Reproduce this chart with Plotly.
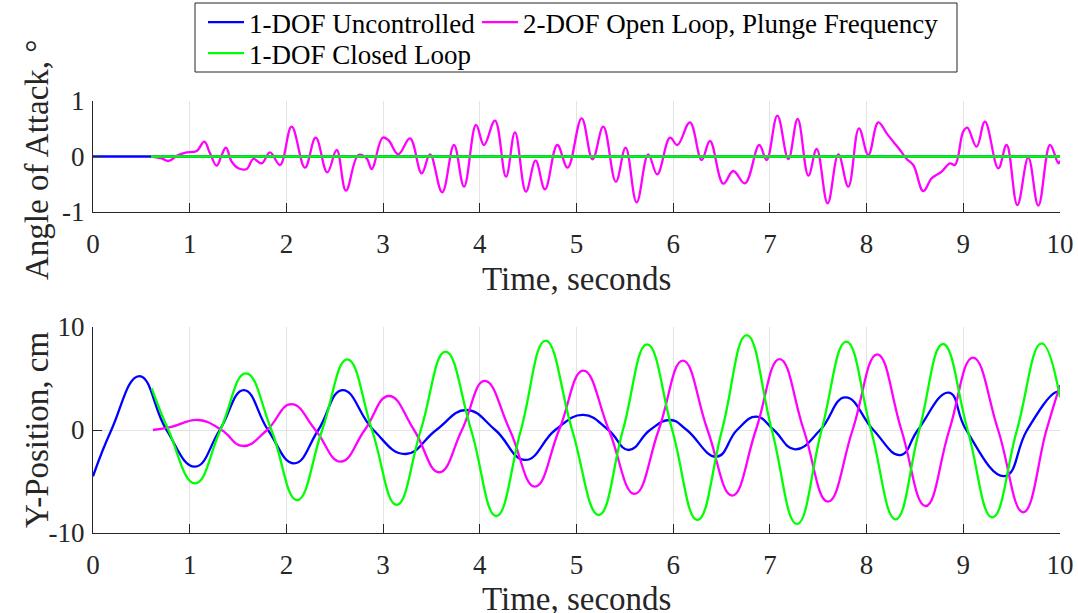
import plotly.graph_objects as go

# ---------------- data ----------------
# Top panel: angle of attack (deg)
aoa_unc_t = [0.0, 10.0]
aoa_unc_v = [0.0, 0.0]
aoa_cl_t = [0.6, 10.0]
aoa_cl_v = [0.0, 0.0]
aoa_ol_t = [0.607, 0.71, 0.779, 0.882, 0.969, 1.072, 1.151, 1.21, 1.279, 1.331, 1.375, 1.434,
            1.503, 1.589, 1.658, 1.744, 1.83, 1.934, 2.054, 2.192, 2.303, 2.423, 2.52, 2.616,
            2.744, 2.83, 2.882, 2.995, 3.054, 3.158, 3.278, 3.399, 3.485, 3.611,
            3.733, 3.837, 3.961, 4.043, 4.157, 4.271, 4.364, 4.477, 4.577, 4.674, 4.801, 4.908,
            5.053, 5.166, 5.277, 5.407, 5.508, 5.622, 5.742, 5.835, 5.967, 6.043, 6.173, 6.294,
            6.38, 6.518, 6.621, 6.742, 6.89, 6.966,
            7.077, 7.191, 7.287, 7.398, 7.484, 7.597, 7.708, 7.811, 7.921, 8.018, 8.121, 8.208,
            8.276, 8.345, 8.414, 8.483, 8.586, 8.673, 8.776, 8.862, 8.914, 8.999, 9.041, 9.137,
            9.224, 9.362, 9.448, 9.559, 9.672, 9.776, 9.897, 9.983, 10.0]
aoa_ol_v = [0.0, -0.033, -0.081, 0.027, 0.075, 0.099, 0.267, 0.057, -0.165, 0.027, 0.159, -0.093,
            -0.213, -0.225, -0.045, -0.123, 0.075, -0.153, 0.538, -0.201, 0.339, -0.285, 0.117, -0.616,
            0.027, -0.033, -0.225, 0.339, 0.297, 0.039, 0.327, -0.303, 0.039, -0.646,
            0.207, -0.544, 0.568, 0.207, 0.646, -0.363, 0.435, -0.634, -0.075, -0.592, 0.207, -0.201,
            0.688, -0.051, 0.538, -0.454, 0.159, -0.826, 0.039, -0.321, 0.339, 0.207, 0.616, -0.063,
            0.279, -0.49, -0.261, -0.484, 0.207, -0.063,
            0.736, -0.045, 0.676, -0.345, 0.135, -0.844, 0.039, -0.544, 0.508, 0.027, 0.616, 0.417,
            0.267, 0.117, -0.045, -0.153, -0.622, -0.393, -0.273, -0.123, -0.153, 0.447, 0.519, 0.177,
            0.628, -0.213, 0.207, -0.874, -0.021, -0.886, 0.207, -0.123, -0.075]

# Bottom panel: Y-position (cm)
y_unc_t = [0.0, 0.19, 0.48, 0.76, 1.055, 1.31, 1.56, 1.81, 2.08, 2.33, 2.58, 2.9, 3.23, 3.55,
           3.86, 4.16, 4.47, 4.78, 5.07, 5.33, 5.54, 5.76, 5.97, 6.14, 6.45, 6.66, 6.86, 7.04,
           7.26, 7.52, 7.78, 8.07, 8.35, 8.53, 8.85, 9.03, 9.43, 9.66, 9.96, 10.0]
y_unc_v = [-4.5, 0.0, 5.24, 0.0, -3.56, 0.0, 3.88, 0.0, -3.24, 0.0, 3.88, 0.0, -2.33, 0.0,
           1.94, 0.0, -2.91, 0.0, 1.46, 0.0, -1.94, 0.0, 0.97, 0.0, -2.59, 0.0, 1.29, 0.0,
           -1.88, 0.0, 3.17, 0.0, -2.43, 0.0, 3.62, 0.0, -4.47, 0.0, 3.69, 3.6]

y_ol_t = [0.62, 0.81, 1.09, 1.33, 1.55, 1.8, 2.05, 2.3, 2.56, 2.81, 3.06, 3.32, 3.58, 3.815,
          4.05, 4.31, 4.57, 4.82, 5.07, 5.335, 5.6, 5.85, 6.1, 6.355, 6.61, 6.855, 7.1, 7.35,
          7.6, 7.855, 8.11, 8.36, 8.61, 8.855, 9.1, 9.36, 9.62, 9.86, 10.0]
y_ol_v = [0.0, 0.3, 0.97, 0.0, -1.55, 0.0, 2.52, 0.0, -3.07, 0.0, 3.3, 0.0, -4.1, 0.0,
          4.76, 0.0, -5.5, 0.0, 5.76, 0.0, -6.21, 0.0, 6.73, 0.0, -6.37, 0.0, 6.89, 0.0,
          -6.96, 0.0, 7.35, 0.0, -7.38, 0.0, 7.02, 0.0, -7.99, 0.0, 4.37]

y_cl_t = [0.607, 0.78, 1.055, 1.3175, 1.58, 1.845, 2.11, 2.37, 2.63, 2.885, 3.14, 3.39, 3.645,
          3.91, 4.17, 4.425, 4.68, 4.955, 5.23, 5.48, 5.73, 5.99, 6.25, 6.505, 6.76, 7.02,
          7.28, 7.535, 7.79, 8.045, 8.3, 8.545, 8.79, 9.045, 9.3, 9.555, 9.81, 10.0]
y_cl_v = [4.05, 0.0, -5.18, 0.0, 5.5, 0.0, -6.8, 0.0, 6.86, 0.0, -7.28, 0.0, 7.6,
          0.0, -8.35, 0.0, 8.67, 0.0, -8.25, 0.0, 8.32, 0.0, -8.74, 0.0, 9.22, 0.0,
          -9.13, 0.0, 8.58, 0.0, -8.67, 0.0, 8.35, 0.0, -8.48, 0.0, 8.41, 3.17]

x_ticks = list(range(0, 11))
top_ticks = [-1, 0, 1]
top_ticktext = ["-1", "0", "1"]
bot_ticks = [-10, 0, 10]
bot_ticktext = ["-10", "0", "10"]

names = ["1-DOF Uncontrolled", "2-DOF Open Loop, Plunge Frequency", "1-DOF Closed Loop"]
colors = ["#0000ff", "#ff00ff", "#00ff00"]

# ---------------- figure ----------------
FONT = "Liberation Serif, Times New Roman, serif"
TXT = "#262626"
GRID = "#e3e3e3"
W, H = 1078, 613
ML, MR, MT, MB = 93, 18, 101, 80
PH = H - MT - MB

def py(p):  # pixel y -> paper y
    return (H - MB - p) / PH

def px_(x):  # pixel x -> paper x
    return (x - ML) / (W - ML - MR)

fig = go.Figure()
LW = 2.3
SM = 1.3

# top panel
fig.add_trace(go.Scatter(x=aoa_unc_t, y=aoa_unc_v, mode="lines", line=dict(color=colors[0], width=LW),
                         xaxis="x", yaxis="y", showlegend=False))
fig.add_trace(go.Scatter(x=aoa_ol_t, y=aoa_ol_v, mode="lines",
                         line=dict(color=colors[1], width=LW, shape="spline", smoothing=1.1),
                         xaxis="x", yaxis="y", showlegend=False))
fig.add_trace(go.Scatter(x=aoa_cl_t, y=aoa_cl_v, mode="lines", line=dict(color=colors[2], width=LW),
                         xaxis="x", yaxis="y", showlegend=False))
# bottom panel
fig.add_trace(go.Scatter(x=y_unc_t, y=y_unc_v, mode="lines", name=names[0],
                         line=dict(color=colors[0], width=LW, shape="spline", smoothing=SM),
                         xaxis="x2", yaxis="y2", legend="legend", legendwidth=223))
fig.add_trace(go.Scatter(x=y_ol_t, y=y_ol_v, mode="lines", name=names[1],
                         line=dict(color=colors[1], width=LW, shape="spline", smoothing=SM),
                         xaxis="x2", yaxis="y2", legend="legend", legendwidth=445))
fig.add_trace(go.Scatter(x=y_cl_t, y=y_cl_v, mode="lines", name=names[2],
                         line=dict(color=colors[2], width=LW, shape="spline", smoothing=SM),
                         xaxis="x2", yaxis="y2", legend="legend2"))

ax_common = dict(
    showline=True, linecolor=TXT, linewidth=1, mirror=False,
    showgrid=True, gridcolor=GRID, gridwidth=1, zeroline=False,
    ticks="inside", ticklen=9, tickwidth=1, tickcolor=TXT,
    tickfont=dict(family=FONT, size=27, color=TXT),
)

LEGX = 203
fig.update_layout(
    width=W, height=H,
    margin=dict(l=ML, r=MR, t=MT, b=MB, autoexpand=False),
    paper_bgcolor="white", plot_bgcolor="white",
    xaxis=dict(domain=[0, 1], anchor="y", range=[0, 10], tickvals=x_ticks, ticklabelstandoff=8, **ax_common),
    yaxis=dict(domain=[py(212), 1], anchor="x", range=[-1, 1], tickvals=top_ticks, ticktext=top_ticktext,
               ticklabelstandoff=2, **ax_common),
    xaxis2=dict(domain=[0, 1], anchor="y2", range=[0, 10], tickvals=x_ticks, ticklabelstandoff=8, **ax_common),
    yaxis2=dict(domain=[0, py(327)], anchor="x2", range=[-10, 10], tickvals=bot_ticks, ticktext=bot_ticktext,
                ticklabelstandoff=2, **ax_common),
    legend=dict(xref="paper", yref="paper", x=px_(LEGX), y=py(-2), xanchor="left", yanchor="top",
                orientation="h", bgcolor="rgba(0,0,0,0)", borderwidth=0, itemwidth=36,
                font=dict(family=FONT, size=27, color="#000000"), itemclick=False),
    legend2=dict(xref="paper", yref="paper", x=px_(LEGX), y=py(29), xanchor="left", yanchor="top",
                 orientation="h", bgcolor="rgba(0,0,0,0)", borderwidth=0, itemwidth=36,
                 font=dict(family=FONT, size=27, color="#000000"), itemclick=False),
    showlegend=True,
)

# legend box
fig.add_shape(type="rect", xref="paper", yref="paper",
              x0=px_(195), x1=px_(957), y0=py(72), y1=py(3),
              line=dict(color="#262626", width=1), fillcolor="rgba(255,255,255,1)", layer="below")

# axis titles
tfont = dict(family=FONT, size=33, color=TXT)
fig.add_annotation(text="Angle of Attack, °", xref="paper", yref="paper", x=px_(37), y=py(160),
                   textangle=-90, showarrow=False, font=tfont, xanchor="center", yanchor="middle")
fig.add_annotation(text="Y-Position, cm", xref="paper", yref="paper", x=px_(37), y=py(430),
                   textangle=-90, showarrow=False, font=tfont, xanchor="center", yanchor="middle")
fig.add_annotation(text="Time, seconds", xref="paper", yref="paper", x=0.5, y=py(279),
                   showarrow=False, font=tfont, xanchor="center", yanchor="middle")
fig.add_annotation(text="Time, seconds", xref="paper", yref="paper", x=0.5, y=py(599),
                   showarrow=False, font=tfont, xanchor="center", yanchor="middle")

fig.write_html("out.html")
